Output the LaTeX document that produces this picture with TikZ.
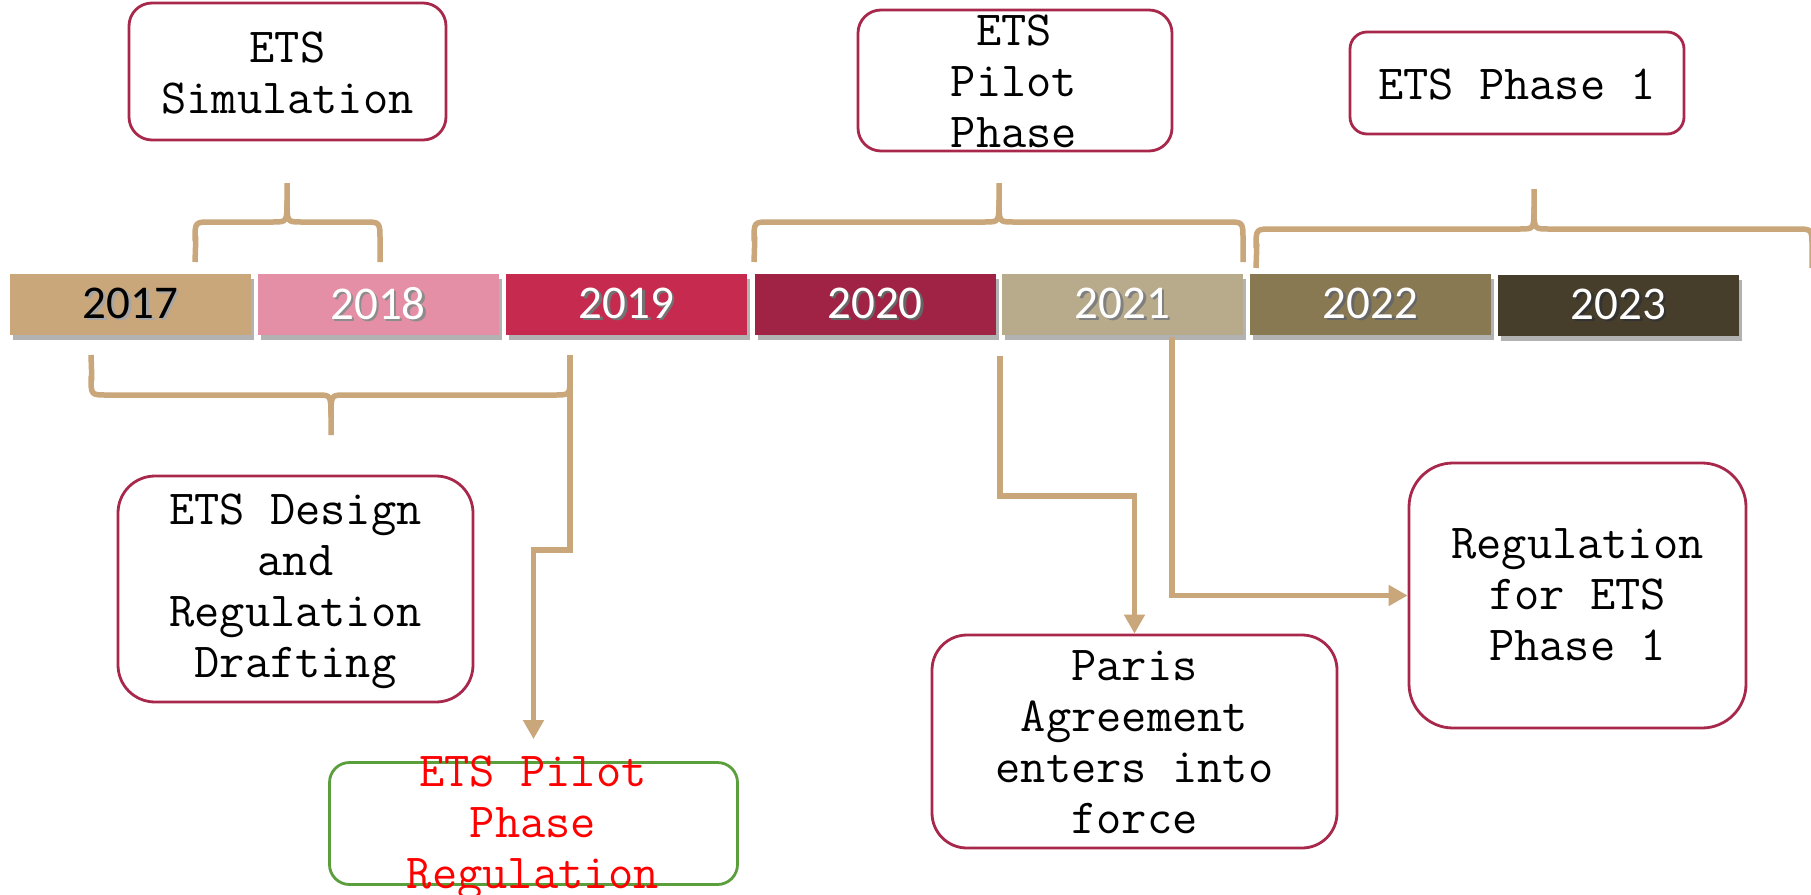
\documentclass[tikz,border=0pt]{standalone}
\usepackage{fontspec}
\setmainfont{Liberation Serif}
\newfontfamily\yearfont{Carlito}
\usetikzlibrary{arrows.meta,shadows}
\definecolor{cA}{HTML}{C9A77A}
\definecolor{cB}{HTML}{E58FA6}
\definecolor{cC}{HTML}{C62A4F}
\definecolor{cD}{HTML}{A02245}
\definecolor{cE}{HTML}{B8AB8B}
\definecolor{cF}{HTML}{897953}
\definecolor{cG}{HTML}{463D2B}
\definecolor{boxred}{HTML}{A8284C}
\definecolor{boxgreen}{HTML}{5B9E3C}
\definecolor{brc}{HTML}{C9A77A}
\newcommand{\shyear}[2]{\rlap{\kern2.5pt\raisebox{-2.5pt}{\color{#2}#1}}#1}
% L R T E H P d
\newcommand{\mybrace}[7]{%
 \draw[bracestyle] (#1,#4) .. controls ({#1+1},{#5+12*#7}) .. (#1,{#5+18*#7}) .. controls (#1,#5) .. ({#1+16},#5) -- ({#3-14},#5) .. controls (#3,#5) .. (#3,{#5-22*#7}) -- (#3,#6);
 \draw[bracestyle] (#3,{#5-22*#7}) .. controls (#3,#5) .. ({#3+14},#5) -- ({#2-16},#5) .. controls (#2,#5) .. (#2,{#5+18*#7}) -- (#2,#4);}
\begin{document}
\begin{tikzpicture}[x=1pt,y=-1pt,
 yearbar/.style={minimum width=241pt, minimum height=61pt, inner sep=0pt, text=white,
   font=\yearfont\fontsize{47}{50}\selectfont,
   drop shadow={shadow xshift=3pt, shadow yshift=-5pt, opacity=.3, fill=black}},
 box/.style={draw=boxred, line width=2.8pt, fill=white, inner sep=0pt},
 txt/.style={font=\ttfamily\fontsize{49}{51}\selectfont, align=center, inner sep=0pt, text=black},
 bracestyle/.style={draw=brc, line width=5.5pt, line join=round},
 conn/.style={draw=brc, line width=5.5pt, -{Triangle[width=20pt,length=19pt]}}
]
\useasboundingbox[fill=white] (0,0) rectangle (1811,894);

% year bars
\node[yearbar, fill=cA, text=black] (y2017) at (130.5,304.5) {\shyear{2017}{black!35}};
\node[yearbar, fill=cB] (y2018) at (378,304.5) {\shyear{2018}{black!45}};
\node[yearbar, fill=cC] (y2019) at (626.5,304.5) {\shyear{2019}{black!55}};
\node[yearbar, fill=cD] (y2020) at (875,304.5) {\shyear{2020}{black!60}};
\node[yearbar, fill=cE] (y2021) at (1122.5,304.5) {\shyear{2021}{black!50}};
\node[yearbar, fill=cF] (y2022) at (1370.5,304.5) {\shyear{2022}{black!60}};
\node[yearbar, fill=cG] (y2023) at (1618.5,305.5) {\shyear{2023}{black!80}};

% braces
\mybrace{195}{380}{287}{262}{222}{183}{1}
\mybrace{754}{1243}{999}{262}{222}{183}{1}
\mybrace{1256}{1812}{1534}{268}{229}{189}{1}
\mybrace{91}{570}{331}{355}{395}{435}{-1}

% boxes
\node[box, minimum width=317pt, minimum height=137pt, rounded corners=23pt] (sim) at (287.5,71.5) {};
\node[txt] (simT) at (287.5,73.5) {ETS\\Simulation};

\node[box, minimum width=314pt, minimum height=141pt, rounded corners=23pt] (pilot) at (1015,80.5) {};
\node[txt] (pilotT) at (1014,81) {ETS\\Pilot\\Phase};

\node[box, minimum width=334pt, minimum height=102pt, rounded corners=17pt] (ph1) at (1517,83) {};
\node[txt] (ph1T) at (1517,84.5) {ETS Phase 1};

\node[box, minimum width=355pt, minimum height=226pt, rounded corners=37pt] (design) at (295.5,589) {};
\node[txt] (designT) at (295.5,591) {ETS Design\\and\\Regulation\\Drafting};

\node[box, draw=boxgreen, minimum width=408pt, minimum height=122pt, rounded corners=20pt] (pilotreg) at (533.5,823.5) {};
\node[txt, text=red] (pilotregT) at (533,828) {ETS Pilot\\Phase\\Regulation};

\node[box, minimum width=405pt, minimum height=213pt, rounded corners=35pt] (paris) at (1134.5,741.5) {};
\node[txt] (parisT) at (1134.5,742.5) {Paris\\Agreement\\enters into\\force};

\node[box, minimum width=337pt, minimum height=265pt, rounded corners=44pt] (reg) at (1577.5,595.5) {};
\node[txt] (regT) at (1577.5,594.5) {Regulation\\for ETS\\Phase 1};

% connectors
\coordinate (bbR) at (570,355);
\coordinate (k1) at (570,550);
\coordinate (a1s) at (1000,356);
\coordinate (k2) at (1000,496);
\coordinate (a2s) at (1172,337);
\draw[conn, shorten >=22pt] (bbR) -- (k1) -| (pilotreg.north);
\draw[conn] (a1s) -- (k2) -| (paris.north);
\draw[conn] (a2s) |- (reg.west);
\end{tikzpicture}
\end{document}
